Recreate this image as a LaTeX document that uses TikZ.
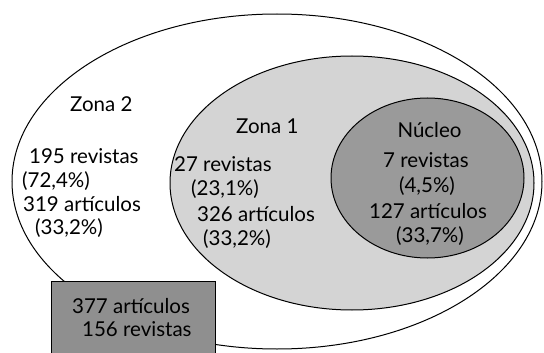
\documentclass[tikz,border=0pt]{standalone}
\usepackage{fontspec}
\setmainfont{Lato}
\usetikzlibrary{shapes.geometric}
\definecolor{zonaone}{HTML}{D4D4D4}
\definecolor{nucfill}{HTML}{9A9A9A}
\definecolor{boxfill}{HTML}{8F8F8F}
\tikzset{
  zone/.style={ellipse, draw=black, line width=1pt, inner sep=0pt},
  lbl/.style={anchor=base west, inner sep=0pt, font=\fontsize{20.5}{24}\selectfont},
  clbl/.style={anchor=base, inner sep=0pt, font=\fontsize{20.5}{24}\selectfont}
}
\begin{document}
\begin{tikzpicture}[x=1pt,y=-1pt]
\useasboundingbox (0,0) rectangle (544,353);
\node[zone, fill=white, minimum width=530pt, minimum height=335pt] (z2) at (277,181.5) {};
\node[zone, fill=zonaone, minimum width=364pt, minimum height=254pt] (z1) at (352,183) {};
\node[zone, fill=nucfill, minimum width=193pt, minimum height=160pt] (nuc) at (427.5,178) {};
\node[draw=black, line width=1pt, fill=boxfill, minimum width=164pt, minimum height=80pt, inner sep=0pt, anchor=north west] (box) at (51,281) {};
% Zona 2
\node[lbl] (z2t) at (70,111) {Zona 2};
\node[lbl] (z2a) at (29,164) {195 revistas};
\node[lbl] (z2b) at (22,187) {(72,4\%)};
\node[lbl] (z2c) at (23,211) {319 artículos};
\node[lbl] (z2d) at (35,234) {(33,2\%)};
% Zona 1
\node[lbl] (z1t) at (236,133) {Zona 1};
\node[lbl] (z1a) at (174,171) {27 revistas};
\node[lbl] (z1b) at (191,195) {(23,1\%)};
\node[lbl] (z1c) at (197,221) {326 artículos};
\node[lbl] (z1d) at (203,245) {(33,2\%)};
% Nucleo
\node[clbl] (nt) at (429.5,137) {Núcleo};
\node[clbl] (na) at (426,167) {7 revistas};
\node[clbl] (nb) at (427,192) {(4,5\%)};
\node[clbl] (nc) at (428,218) {127 artículos};
\node[clbl] (nd) at (430,242) {(33,7\%)};
% Box
\node[lbl] (ba) at (72,313) {377 artículos};
\node[lbl] (bb) at (82,336) {156 revistas};
\end{tikzpicture}
\end{document}
